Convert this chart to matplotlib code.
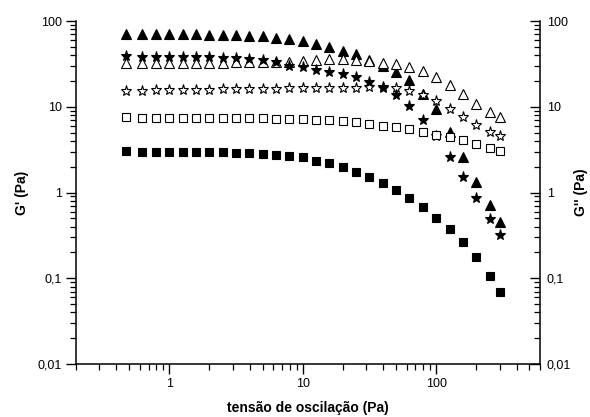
import matplotlib.pyplot as plt
from matplotlib.ticker import FixedLocator, LogLocator, NullFormatter, FixedFormatter

plt.rcParams['font.family'] = ['Liberation Sans', 'DejaVu Sans']

# tensão de oscilação (Pa)
stress = [0.47, 0.63, 0.79, 1.0, 1.26, 1.58, 2.0, 2.51, 3.16, 3.98, 5.01, 6.31,
          7.94, 10.0, 12.6, 15.8, 20.0, 25.1, 31.6, 39.8, 50.1, 63.1, 79.4, 100,
          126, 158, 200, 255, 303]

tri_filled = [70.5, 70.5, 70, 70, 70, 70, 69, 68.7, 68, 67, 66, 64,
              61.7, 57.9, 54, 50, 45, 40.9, 35, 30, 25.6, 20.5, 14.1, 9.3,
              5.1, 2.6, 1.32, 0.715, 0.45]
tri_open = [32, 32, 32, 32, 32, 32, 32.5, 32.5, 33, 33, 33, 33.5,
            33.6, 34.4, 35.1, 35.7, 35.7, 35.1, 34.4, 32.6, 31.2, 29.3, 26.1, 22.4,
            17.9, 14.1, 10.8, 8.76, 7.5]
star_filled = [39, 38.5, 38.5, 38.5, 38.5, 38.5, 38, 37.5, 36.8, 36, 35, 33.5,
               30, 29.3, 26.9, 25.6, 24.1, 22.1, 19.6, 17.1, 13.7, 10.2, 7.1, 4.6,
               2.62, 1.5, 0.86, 0.49, 0.32]
star_open = [15.4, 15.4, 15.5, 15.5, 15.6, 15.7, 15.8, 15.9, 16, 16.1, 16.2, 16.3,
             16.4, 16.4, 16.4, 16.4, 16.4, 16.4, 16.8, 16.6, 16.4, 15.4, 13.7, 11.8,
             9.3, 7.5, 6.1, 5.1, 4.5]
sq_open = [7.5, 7.4, 7.4, 7.4, 7.4, 7.4, 7.4, 7.3, 7.3, 7.3, 7.3, 7.2,
           7.2, 7.2, 7.1, 7.0, 6.9, 6.6, 6.3, 6.0, 5.75, 5.45, 5.1, 4.7,
           4.4, 4.1, 3.65, 3.33, 3.05]
sq_filled = [3.05, 2.94, 2.99, 2.99, 2.99, 2.99, 2.94, 2.94, 2.9, 2.86, 2.81, 2.74,
             2.69, 2.57, 2.35, 2.19, 2.0, 1.75, 1.53, 1.30, 1.07, 0.855, 0.67, 0.51,
             0.375, 0.265, 0.175, 0.107, 0.07]

y_ticks = [0.01, 0.1, 1, 10, 100]
y_labels = ['0,01', '0,1', '1', '10', '100']
x_ticks = [1, 10, 100]
x_labels = ['1', '10', '100']

fig = plt.figure(figsize=(5.9, 4.17), dpi=100)
ax = fig.add_axes([76 / 590, 53 / 417, 464 / 590, 343 / 417])

ax.plot(stress, tri_filled, ls='none', marker='^', ms=6.5, mfc='black', mec='black', mew=0.8)
ax.plot(stress, tri_open, ls='none', marker='^', ms=6.5, mfc='white', mec='black', mew=0.8)
ax.plot(stress, star_open, ls='none', marker='*', ms=8, mfc='white', mec='black', mew=0.8)
ax.plot(stress, star_filled, ls='none', marker='*', ms=8, mfc='black', mec='black', mew=0.8)
ax.plot(stress, sq_open, ls='none', marker='s', ms=5.2, mfc='white', mec='black', mew=0.8)
ax.plot(stress, sq_filled, ls='none', marker='s', ms=5.2, mfc='black', mec='black', mew=0.8)

ax.set_xscale('log')
ax.set_yscale('log')
ax.set_xlim(0.2, 600)
ax.set_ylim(0.01, 100)

ax.xaxis.set_major_locator(FixedLocator(x_ticks))
ax.xaxis.set_major_formatter(FixedFormatter(x_labels))
ax.xaxis.set_minor_locator(LogLocator(base=10, subs=range(2, 10)))
ax.xaxis.set_minor_formatter(NullFormatter())
ax.yaxis.set_major_locator(FixedLocator(y_ticks))
ax.yaxis.set_major_formatter(FixedFormatter(y_labels))
ax.yaxis.set_minor_locator(LogLocator(base=10, subs=range(2, 10)))
ax.yaxis.set_minor_formatter(NullFormatter())

ax.spines['top'].set_visible(False)
ax.spines['right'].set_visible(False)
for s in ['left', 'bottom']:
    ax.spines[s].set_linewidth(1.1)
ax.tick_params(which='major', direction='out', length=7, width=1.0, labelsize=9, pad=3)
ax.tick_params(which='minor', direction='out', length=4, width=0.9)

ax2 = ax.twinx()
ax2.set_yscale('log')
ax2.set_ylim(0.01, 100)
ax2.yaxis.set_major_locator(FixedLocator(y_ticks))
ax2.yaxis.set_major_formatter(FixedFormatter(y_labels))
ax2.yaxis.set_minor_locator(LogLocator(base=10, subs=range(2, 10)))
ax2.yaxis.set_minor_formatter(NullFormatter())
ax2.spines['top'].set_visible(False)
ax2.spines['left'].set_visible(False)
ax2.spines['bottom'].set_visible(False)
ax2.spines['right'].set_linewidth(1.1)
ax2.tick_params(which='major', direction='in', length=7, width=1.0, labelsize=9, pad=5)
ax2.tick_params(which='minor', direction='in', length=4, width=0.9)

ax.set_xlabel('tensão de oscilação (Pa)', fontsize=10, fontweight='bold', labelpad=8)
ax.set_ylabel("G' (Pa)", fontsize=10, fontweight='bold', labelpad=6)
ax2.set_ylabel("G'' (Pa)", fontsize=10, fontweight='bold', labelpad=2)

fig.savefig('out.png', dpi=100)
